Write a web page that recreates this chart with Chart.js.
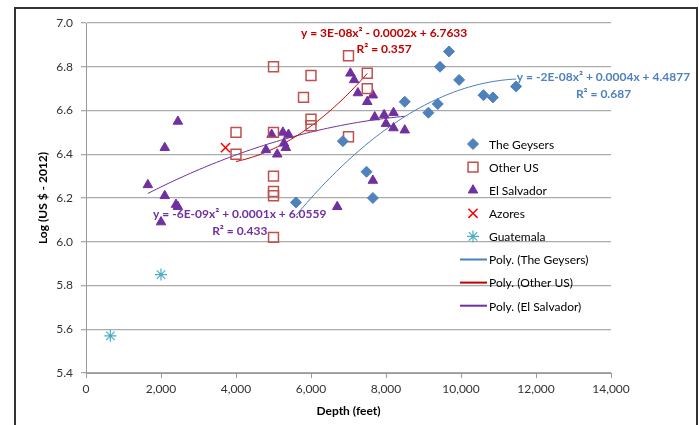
<!DOCTYPE html>
<html>
<head>
<meta charset="utf-8">
<script src="https://cdn.jsdelivr.net/npm/chart.js@4.4.0/dist/chart.umd.min.js"></script>
<style>
html, body { margin: 0; padding: 0; background: #fff; }
</style>
</head>
<body>
<canvas id="depthChart" width="699" height="425"></canvas>
<script>
// Well depth (feet) against log cost (US $ - 2012)
var geysersDepth = [5600, 6850, 7480, 7650, 8500, 9130, 9380, 9440, 9680, 9950, 10600, 10850, 11470];
var geysersCost  = [6.18, 6.46, 6.32, 6.20, 6.64, 6.59, 6.63, 6.80, 6.87, 6.74, 6.67, 6.66, 6.71];

var otherUsDepth = [4000, 4000, 5000, 5000, 5000, 5000, 5000, 5000, 5800, 6000, 6000, 6000, 7000, 7000, 7500, 7500];
var otherUsCost  = [6.40, 6.50, 6.80, 6.50, 6.30, 6.23, 6.21, 6.02, 6.66, 6.76, 6.56, 6.53, 6.85, 6.48, 6.77, 6.70];

var salvadorDepth = [1650, 2100, 2450, 2100, 2400, 2450, 2000, 4800, 4950, 5100, 5250, 5280, 5400, 5330,
                     6700, 7050, 7150, 7250, 7650, 7500, 7700, 7650, 7950, 8000, 8200, 8200, 8500];
var salvadorCost  = [6.26, 6.43, 6.55, 6.21, 6.17, 6.16, 6.09, 6.42, 6.49, 6.40, 6.50, 6.45, 6.49, 6.43,
                     6.16, 6.77, 6.74, 6.68, 6.67, 6.64, 6.57, 6.28, 6.58, 6.54, 6.59, 6.52, 6.51];

var azoresDepth = [3720];
var azoresCost  = [6.43];

var guatemalaDepth = [650, 2000];
var guatemalaCost  = [5.57, 5.85];

var xTicks = [0, 2000, 4000, 6000, 8000, 10000, 12000, 14000];
var yTicks = [5.4, 5.6, 5.8, 6.0, 6.2, 6.4, 6.6, 6.8, 7.0];

var geysersEq  = ['y = -2E-08x² + 0.0004x + 4.4877', 'R² = 0.687'];
var otherUsEq  = ['y = 3E-08x² - 0.0002x + 6.7633', 'R² = 0.357'];
var salvadorEq = ['y = -6E-09x² + 0.0001x + 6.0559', 'R² = 0.433'];

var BLUE = '#4F81BD', RED = '#C0504D', PURPLE = '#7030A0', CYAN = '#4BACC6';

function toPoints(xs, ys) {
    return xs.map(function (x, i) { return { x: x, y: ys[i] }; });
}

// least-squares quadratic, x in thousands of feet
function polyFit2(xs, ys) {
    var s = [0, 0, 0, 0, 0], r = [0, 0, 0];
    for (var i = 0; i < xs.length; i++) {
        var t = xs[i] / 1000, p = 1;
        for (var k = 0; k < 5; k++) { s[k] += p; p *= t; }
        r[0] += ys[i]; r[1] += ys[i] * t; r[2] += ys[i] * t * t;
    }
    var m = [[s[0], s[1], s[2], r[0]], [s[1], s[2], s[3], r[1]], [s[2], s[3], s[4], r[2]]];
    for (var c = 0; c < 3; c++) {
        for (var j = c + 1; j < 3; j++) {
            var f = m[j][c] / m[c][c];
            for (var q = c; q < 4; q++) m[j][q] -= f * m[c][q];
        }
    }
    var a = [0, 0, 0];
    for (var row = 2; row >= 0; row--) {
        var v = m[row][3];
        for (var q2 = row + 1; q2 < 3; q2++) v -= m[row][q2] * a[q2];
        a[row] = v / m[row][row];
    }
    return a;
}

function trendPoints(xs, ys) {
    var a = polyFit2(xs, ys);
    var lo = Math.min.apply(null, xs), hi = Math.max.apply(null, xs);
    var pts = [];
    for (var n = 0; n <= 60; n++) {
        var x = lo + (hi - lo) * n / 60, t = x / 1000;
        pts.push({ x: x, y: a[0] + a[1] * t + a[2] * t * t });
    }
    return pts;
}

var font = 'Lato, "DejaVu Sans", sans-serif';

// frame around the whole chart
var framePlugin = {
    id: 'frame',
    beforeDraw: function (chart) {
        var ctx = chart.ctx;
        ctx.save();
        ctx.fillStyle = '#fff';
        ctx.fillRect(0, 0, chart.width, chart.height);
        ctx.strokeStyle = '#333';
        ctx.lineWidth = 2;
        ctx.strokeRect(15, 8, 682, 440);
        ctx.restore();
    }
};

// trendline equations, anchored in data units
var eqLabels = [
    { lines: otherUsEq, color: '#C00000', x: 7950, y: [6.954, 6.881], align: 'center' },
    { lines: geysersEq, color: BLUE, x: 13800, y: [6.753, 6.676], align: 'center' },
    { lines: salvadorEq, color: PURPLE, x: 4100, y: [6.128, 6.047], align: 'center' }
];

var eqPlugin = {
    id: 'equations',
    afterDatasetsDraw: function (chart) {
        var ctx = chart.ctx, xs = chart.scales.x, ys = chart.scales.y;
        ctx.save();
        ctx.font = 'bold 12px ' + font;
        ctx.textBaseline = 'middle';
        eqLabels.forEach(function (l) {
            ctx.fillStyle = l.color;
            ctx.textAlign = l.align;
            l.lines.forEach(function (txt, i) {
                ctx.fillText(txt, xs.getPixelForValue(l.x), ys.getPixelForValue(l.y[i]));
            });
        });
        ctx.restore();
    }
};

// legend drawn inside the plot area
var legendPlugin = {
    id: 'insideLegend',
    afterDraw: function (chart) {
        var ctx = chart.ctx;
        var left = 473, textX = 489, top = 144, step = 23.1;
        ctx.save();
        ctx.font = '12px ' + font;
        ctx.textBaseline = 'middle';
        ctx.textAlign = 'left';
        chart.data.datasets.forEach(function (ds, i) {
            var y = top + i * step;
            ctx.fillStyle = ds.backgroundColor;
            ctx.strokeStyle = ds.borderColor;
            ctx.lineWidth = ds.borderWidth;
            if (ds.showLine) {
                ctx.beginPath();
                ctx.moveTo(460, y);
                ctx.lineTo(487, y);
                ctx.lineWidth = 2;
                ctx.stroke();
            } else {
                Chart.helpers.drawPoint(ctx, {
                    pointStyle: ds.pointStyle,
                    radius: ds.pointRadius,
                    borderWidth: ds.borderWidth,
                    rotation: 0
                }, left, y);
            }
            ctx.fillStyle = '#000';
            ctx.fillText(ds.label, textX, y + 1);
        });
        ctx.restore();
    }
};

var ctx = document.getElementById('depthChart');
var myChart = new Chart(ctx, {
    type: 'scatter',
    data: {
        datasets: [{
            label: 'The Geysers',
            data: toPoints(geysersDepth, geysersCost),
            pointStyle: 'rectRot',
            pointRadius: 5.5,
            backgroundColor: BLUE,
            borderColor: BLUE,
            borderWidth: 1
        }, {
            label: 'Other US',
            data: toPoints(otherUsDepth, otherUsCost),
            pointStyle: 'rect',
            pointRadius: 7,
            backgroundColor: 'rgba(0,0,0,0)',
            borderColor: RED,
            borderWidth: 1.5
        }, {
            label: 'El Salvador',
            data: toPoints(salvadorDepth, salvadorCost),
            pointStyle: 'triangle',
            pointRadius: 5.5,
            backgroundColor: PURPLE,
            borderColor: PURPLE,
            borderWidth: 1
        }, {
            label: 'Azores',
            data: toPoints(azoresDepth, azoresCost),
            pointStyle: 'crossRot',
            pointRadius: 6.5,
            backgroundColor: '#FF0000',
            borderColor: '#FF0000',
            borderWidth: 1.5
        }, {
            label: 'Guatemala',
            data: toPoints(guatemalaDepth, guatemalaCost),
            pointStyle: 'star',
            pointRadius: 6,
            backgroundColor: CYAN,
            borderColor: CYAN,
            borderWidth: 1.2
        }, {
            label: 'Poly. (The Geysers)',
            data: trendPoints(geysersDepth, geysersCost),
            showLine: true,
            pointRadius: 0,
            borderColor: '#4A7EBB',
            backgroundColor: '#4A7EBB',
            borderWidth: 1
        }, {
            label: 'Poly. (Other US)',
            data: trendPoints(otherUsDepth, otherUsCost),
            showLine: true,
            pointRadius: 0,
            borderColor: '#C00000',
            backgroundColor: '#C00000',
            borderWidth: 1
        }, {
            label: 'Poly. (El Salvador)',
            data: trendPoints(salvadorDepth, salvadorCost),
            showLine: true,
            pointRadius: 0,
            borderColor: PURPLE,
            backgroundColor: PURPLE,
            borderWidth: 1
        }]
    },
    options: {
        responsive: false,
        animation: false,
        devicePixelRatio: 1,
        layout: { padding: { left: 0, top: 23, right: 88, bottom: 0 } },
        plugins: {
            legend: { display: false },
            tooltip: { enabled: false }
        },
        scales: {
            x: {
                type: 'linear',
                min: xTicks[0],
                max: xTicks[xTicks.length - 1],
                afterBuildTicks: function (s) { s.ticks = xTicks.map(function (v) { return { value: v }; }); },
                afterFit: function (s) { s.height = 52; },
                ticks: {
                    color: '#333',
                    font: { family: font, size: 12 },
                    padding: 4,
                    maxRotation: 0,
                    callback: function (v) { return v.toLocaleString('en-US'); }
                },
                grid: { drawOnChartArea: false, drawTicks: true, tickLength: 5, color: '#999' },
                border: { color: '#999' },
                title: {
                    display: true,
                    text: 'Depth (feet)',
                    color: '#000',
                    font: { family: font, size: 12, weight: 'bold' },
                    padding: { top: 0, bottom: 7 }
                }
            },
            y: {
                type: 'linear',
                min: yTicks[0],
                max: yTicks[yTicks.length - 1],
                afterBuildTicks: function (s) { s.ticks = yTicks.map(function (v) { return { value: v }; }); },
                afterFit: function (s) { s.width = 86; },
                ticks: {
                    color: '#333',
                    font: { family: font, size: 12 },
                    padding: 8,
                    callback: function (v) { return v.toFixed(1); }
                },
                grid: { color: '#aaa', lineWidth: 1.3, tickLength: 5 },
                border: { color: '#999' },
                title: {
                    display: true,
                    text: 'Log (US $ - 2012)',
                    color: '#000',
                    font: { family: font, size: 12, weight: 'bold' },
                    padding: { top: 36, bottom: 0 }
                }
            }
        }
    },
    plugins: [framePlugin, eqPlugin, legendPlugin]
});
</script>
</body>
</html>
